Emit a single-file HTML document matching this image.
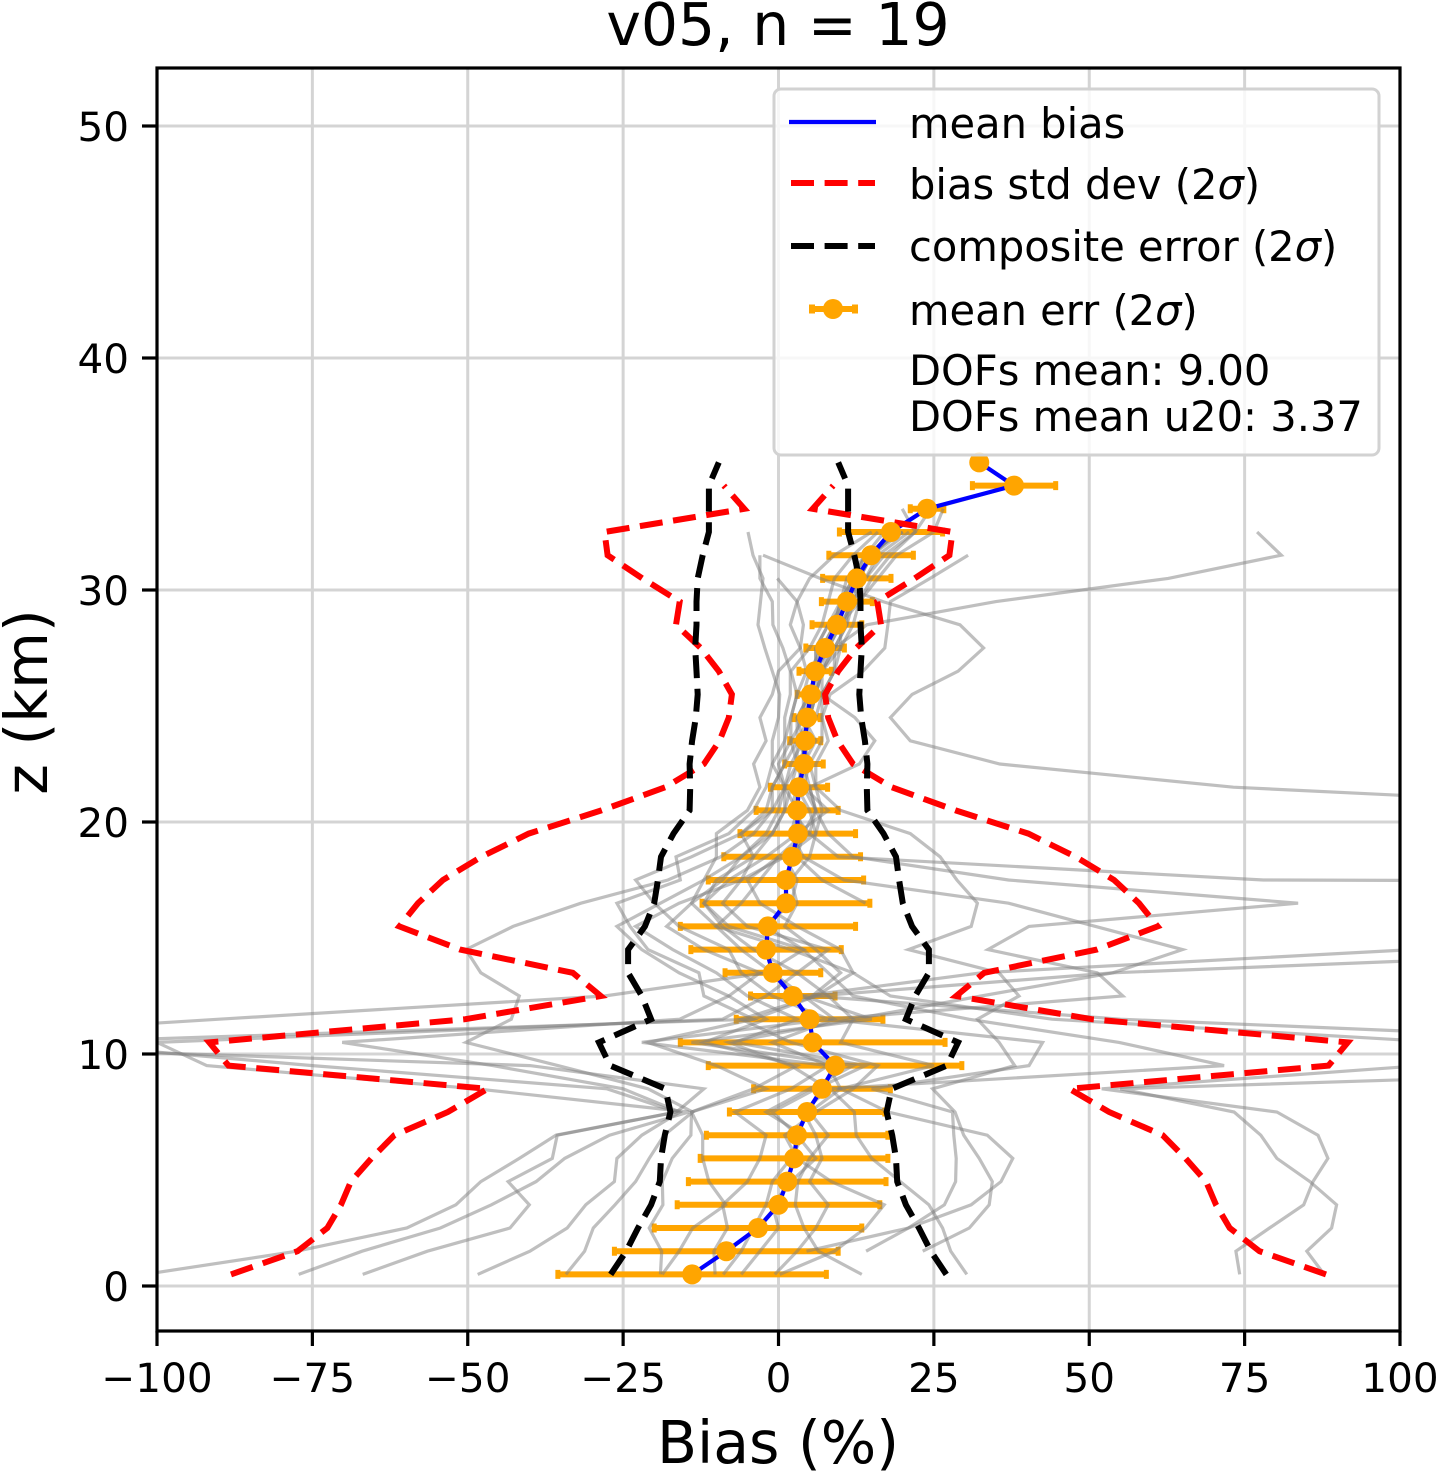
<!DOCTYPE html>
<html><head><meta charset="utf-8"><title>v05, n = 19</title>
<style>html,body{margin:0;padding:0;background:#fff}svg{display:block}text{font-family:"DejaVu Sans","Liberation Sans",sans-serif;fill:#000}</style>
</head><body>
<svg id="chart" xmlns="http://www.w3.org/2000/svg" width="1437" height="1472" viewBox="0 0 1437 1472"></svg>
<script>
const xTicks = [-100,-75,-50,-25,0,25,50,75,100];
const yTicks = [0,10,20,30,40,50];
const altitudes = [0.5,1.5,2.5,3.5,4.5,5.5,6.5,7.5,8.5,9.5,10.5,11.5,12.5,13.5,14.5,15.5,16.5,17.5,18.5,19.5,20.5,21.5,22.5,23.5,24.5,25.5,26.5,27.5,28.5,29.5,30.5,31.5,32.5,33.5,34.5,35.5];
const meanBias = [-13.9,-8.4,-3.3,0,1.4,2.5,3,4.6,7,9.1,5.5,5,2.3,-0.9,-2,-1.7,1.2,1.2,2.2,3.1,3,3.3,4.1,4.3,4.6,5.2,5.9,7.5,9.4,11,12.6,14.9,18.1,23.9,37.9,32.3];
const meanErr = [21.6,18,16.7,16.3,15.9,15.1,14.6,12.5,11,20.4,21.3,11.8,6.8,7.7,12.1,14.1,13.5,12.5,11,9.3,6.6,4.6,3.1,2.5,2.1,2.2,2.6,3.1,4,4.1,5.5,6.8,8.3,2.7,6.7,0];
const biasStd = [88.1,77.4,72.6,70.4,68.8,65.5,61.8,53.2,46.8,88.5,91.6,50.4,28.6,33.1,51.2,61,58,54,47.8,40.2,28.5,18.2,12,9.5,8,7.5,9.6,12.5,16.5,15.9,21.9,27.5,28,5.5,8.8];
const compositeErr = [27,24.5,22.6,20.5,19.1,18.9,18.3,17.4,18.2,27.1,28.9,20.5,22,24.2,24.2,21.5,20,19.4,18.9,16.9,14.3,14.2,14.3,13.9,13.3,13,13.2,13.4,13.2,13.2,13,12.2,11.2,11.2,11.2,9.6];
const profile01 = [-102,-77.5,-59.8,-51.9,-47.9,-41.7,-35.8,-16.4,-12,-40,-150,-90,-28,-2,4,-8,-12,-8,-2,3,8,4,5,3,6,7,9,10,12,13,15,18,22,24.5,38,32.3];
const profile02 = [-77.2,-67,-54.4,-46.2,-39,-34.4,-27.2,-14.4,-48.7,-92,-100,-9,-2,3,8,-5,-9,-6,1,5,2,3,4,4,5,5,6,8,9,11,13,15,19];
const profile03 = [-66.9,-56.5,-43.2,-40.1,-43.5,-36.4,-35.6,-16.4,-27.6,-75,-118,-4,6,12,2,-10,-6,-3,0,4,3,1,2,4,3,5,6,8,10,12,14,17,22,19.9];
const profile04 = [-48.4,-40,-34,-31,-26.4,-26,-22,-15.9,-25,-46,-70.2,-15.9,-8,-3,-12,-18,-14,-9,-6,-1,1,2,3,3,5,6,7,9,11,11,13,15,19];
const profile05 = [-34.2,-31.2,-29.8,-26.3,-23,-20.8,-18.4,-13.8,-21,-35.5,-50.3,-43,-41.7,-47.9,-50.3,-42.7,-31.8,-17.8,-9.3,-4,-1,1,0,2,4,4,5,7,9,10,11,14,17];
const profile06 = [-19,-18.8,-20.8,-18.6,-18.7,-17.1,-14.1,-14,-2,-10,-21,-4,-12,-12.8,-21,-23.9,-26,-15.8,-16.5,-8,-4,-2,-1,1,2,3,2,5,7,8,9,12,16];
const profile07 = [-18.7,-16,-13.8,-8.5,-11.2,-12.2,-12.2,-14,-4,3,-12,-2,-8,-16,-22,-26,-19,-12,-10,-10,-5,-3,-4,-2,-3,-1,0,3.5,4,3,5,9,15];
const profile08 = [-10.2,-10.4,-8.2,-9,-5,-3,-2,-7,2,8,-22,8,-1,-6,-8,-16,-20,-23,-14,-6,-2,-1,1,1,1,1.9,1.9,0.7,-0.9,-1,-3,-3];
const profile09 = [-8.9,-6,-4,-2,-1,2,4,-2,5,12,-14,15,4,-1,-6,-10,-14,-12,-6,-2,0,1,-1,-1,0,0.2,-1,-2.2,-3.3,-2.9,-2.5,-4.1,-4.9];
const profile10 = [-0.6,3,6,8,5,7,6,4,8,2,-8,12,8,3,-4,-9,-12,-10,-4,-1,1,1,3,2,2,3,4.5,3.5,1.9,3,-0.2];
const profile11 = [74.2,73.6,79,84.5,86,88.4,86.8,80.2,52,103.5,107,44,18,12,10,3,-3,-5,0,null,150,73.2,35.6,21.2,18,21.5,28.9,33,29.2,16.8,6.7,-2.5];
const profile12 = [87.8,85,89,89.8,85.5,80.2,77.6,73.3,55,172,145,55,5.4,10,6,1,3,2,5,6,7,6,5,7,7,8.3,13.6,17.1,17.6,18,24.4,30.5];
const profile13 = [30.3,27.7,26.4,24.2,19.6,15,12.5,12.2,8.3,71.7,54.8,30.6,12,8,4,-2,2,3,1,6,5,3,4,6,4,6,7,9,14.2,35,62.7,80.9,77];
const profile14 = [null,23.2,30.7,33.9,34.4,32.3,29.8,28.4,24.8,38,35.5,32,38.7,35.5,20.9,31,32,28.7,26,21.2,10,6,6,8,7,7,9,9,11,12,14,16,21];
const profile15 = [null,14.1,20.9,26.7,28.5,28.6,28.2,28,15,40.3,42.5,8,55.4,51.3,33.7,40.3,83.6,37,12,8,6,5,13,15.5,12.3,7,7,10,10,13,16,19,25,26.5];
const profile16 = [null,4.5,20.9,31,35.8,37.7,33.6,17.6,10,25,10,12,32.6,53.8,65,51,37,10.5,4,2,3,3,5,4,5,6,7,8,10,12,13,15,18];
const profile17 = [13.4,6.4,4.1,2.7,3.1,5,8,5,10,8,-1,9,4,32.6,102,null,14,7,3,4,6,5,4,4,5,6,6,7,9,10,12,14,20];
const profile18 = [0.2,9,14,17,8.5,3,1,6,12,16,2,-6,6,53.8,147,null,1400,78,9.6,5,6,4,3,5,4,5,6,6,8,11,12,15,20];
const profile19 = [-6,-3,0,-1,2,6,3,-1,6,14,-7,3,-5,-10,-17,-23,-16,-6,-4,-6,-1,-1,1,3,3,5,6,6,8,10,12,14,19];
const profiles = [profile01,profile02,profile03,profile04,profile05,profile06,profile07,profile08,profile09,profile10,profile11,profile12,profile13,profile14,profile15,profile16,profile17,profile18,profile19];

const NS = 'http://www.w3.org/2000/svg';
const svg = document.getElementById('chart');
const plot = {left:157,right:1400,top:68,bottom:1331};
function xScale(v){return 778.5 + v*6.215;}
function yScale(z){return 1286 - z*23.2;}
function make(tag,attrs,parent,text){
  const el=document.createElementNS(NS,tag);
  for(const k in attrs){el.setAttribute(k,attrs[k]);}
  if(text!==undefined){el.textContent=text;}
  (parent||svg).appendChild(el);
  return el;
}
function pathFrom(vals,sign){
  let d='',pen=false;
  vals.forEach(function(v,i){
    if(v===null||v===undefined){pen=false;return;}
    d+=(pen?'L':'M')+xScale(v*sign).toFixed(1)+' '+yScale(altitudes[i]).toFixed(1);
    pen=true;
  });
  return d;
}
const defs=make('defs',{});
const clip=make('clipPath',{id:'plot-clip'},defs);
make('rect',{x:plot.left,y:plot.top,width:plot.right-plot.left,height:plot.bottom-plot.top},clip);

// gridlines
xTicks.forEach(function(t){
  const g=make('line',{x1:xScale(t),x2:xScale(t),y1:plot.top,y2:plot.bottom,stroke:'#d4d4d4','stroke-width':3});
  
  
});
yTicks.forEach(function(t){
  const g=make('line',{x1:plot.left,x2:plot.right,y1:yScale(t),y2:yScale(t),stroke:'#d4d4d4','stroke-width':3});
  
  
});

const plotArea=make('g',{'clip-path':'url(#plot-clip)'});



// orange error bars
altitudes.forEach(function(z,i){
  if(!meanErr[i]){return;}
  const a=xScale(meanBias[i]-meanErr[i]),b=xScale(meanBias[i]+meanErr[i]),y=yScale(z);
  const bar=make('path',{d:'M'+a+' '+y+'L'+b+' '+y,stroke:'#ffa500','stroke-width':6,fill:'none'},plotArea);
  
  
  const cap=make('path',{d:'M'+a+' '+(y-4.5)+'V'+(y+4.5)+'M'+b+' '+(y-4.5)+'V'+(y+4.5),stroke:'#ffa500','stroke-width':5,fill:'none'},plotArea);
  
  
});

// individual profiles
profiles.forEach(function(vals){
  const p=make('path',{d:pathFrom(vals,1),fill:'none',stroke:'#808080','stroke-opacity':0.5,'stroke-width':3.2,'stroke-linejoin':'miter'},plotArea);
  
  
});

// mean bias line
const blue=make('path',{d:pathFrom(meanBias,1),fill:'none',stroke:'#0000ff','stroke-width':4.2},plotArea);



// std dev and composite bands
[-1,1].forEach(function(s){
  const r=make('path',{d:pathFrom(biasStd,s),fill:'none',stroke:'#ff0000','stroke-width':6,'stroke-dasharray':'23 10.6'},plotArea);
  
  
  const k=make('path',{d:pathFrom(compositeErr,s),fill:'none',stroke:'#000','stroke-width':6,'stroke-dasharray':'23 10.6'},plotArea);
  
  
});

// mean markers
altitudes.forEach(function(z,i){
  const c=make('circle',{cx:xScale(meanBias[i]),cy:yScale(z),r:10,fill:'#ffa500'},plotArea);
  
  
});

// frame
const frame=make('rect',{x:plot.left,y:plot.top,width:plot.right-plot.left,height:plot.bottom-plot.top,fill:'none',stroke:'#000','stroke-width':3.2});



// ticks
xTicks.forEach(function(t){
  const m=make('line',{x1:xScale(t),x2:xScale(t),y1:plot.bottom,y2:plot.bottom+15,stroke:'#000','stroke-width':3.2});
  
  
  const l=make('text',{x:xScale(t),y:1392,'text-anchor':'middle','font-size':40.5},svg,String(t).replace('-','\u2212'));
  
  
});
yTicks.forEach(function(t){
  const m=make('line',{x1:plot.left-15,x2:plot.left,y1:yScale(t),y2:yScale(t),stroke:'#000','stroke-width':3.2});
  
  
  const l=make('text',{x:129,y:yScale(t)+15,'text-anchor':'end','font-size':40.5},svg,String(t));
  
  
});

// titles
const title=make('text',{x:778,y:45,'text-anchor':'middle','font-size':58.4},svg,'v05, n = 19');


const xTitle=make('text',{x:778,y:1463,'text-anchor':'middle','font-size':58.4},svg,'Bias (%)');


const yTitle=make('text',{x:0,y:0,'text-anchor':'middle','font-size':58.4,transform:'translate(47 702) rotate(-90)'},svg,'z (km)');



// legend
const legend=make('g',{});


const box=make('rect',{x:774,y:89,width:605,height:366,rx:7,ry:7,fill:'#fff','fill-opacity':0.8,stroke:'#d2d2d2','stroke-width':3},legend);



const s1=make('line',{x1:789,x2:876,y1:122,y2:122,stroke:'#0000ff','stroke-width':4.2},legend);


const s2=make('line',{x1:791,x2:875,y1:183,y2:183,stroke:'#ff0000','stroke-width':6,'stroke-dasharray':'23 10.6'},legend);


const s3=make('line',{x1:791,x2:875,y1:246,y2:246,stroke:'#000','stroke-width':6,'stroke-dasharray':'23 10.6'},legend);


const s4=make('path',{d:'M812 309H855M812 304.5V313.5M855 304.5V313.5',stroke:'#ffa500','stroke-width':6,fill:'none'},legend);


const s5=make('circle',{cx:833,cy:309,r:10,fill:'#ffa500'},legend);



function sigmaLabel(y,before,name){
  const t=make('text',{x:909,y:y,'font-size':41.6},legend);
  
  
  t.appendChild(document.createTextNode(before+'(2'));
  const sp=make('tspan',{'font-style':'italic'},t,'\u03c3');
  t.appendChild(document.createTextNode(')'));
  return sp;
}
const t1=make('text',{x:909,y:138,'font-size':41.6},legend,'mean bias');


sigmaLabel(199,'bias std dev ','legend-std-dev-label');
sigmaLabel(261,'composite error ','legend-composite-label');
sigmaLabel(325,'mean err ','legend-mean-err-label');
const t5=make('text',{x:909,y:385,'font-size':41.6},legend,'DOFs mean: 9.00');


const t6=make('text',{x:909,y:431,'font-size':41.6},legend,'DOFs mean u20: 3.37');


</script>
</body></html>
